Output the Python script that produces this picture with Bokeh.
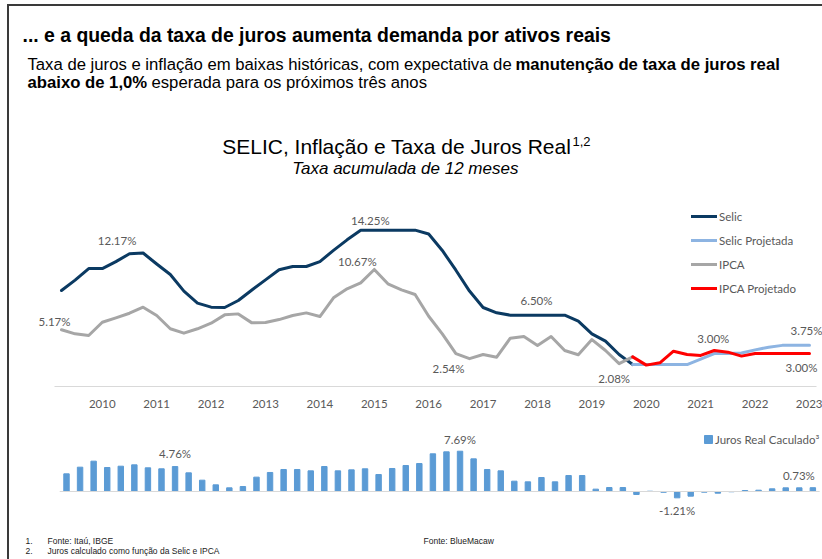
import math
from bokeh.plotting import figure
from bokeh.models import Range1d, FixedTicker, Legend, LegendItem, ColumnDataSource
from bokeh.layouts import column
from bokeh.embed import file_html
from bokeh.resources import INLINE
from bokeh.core.properties import value

nan = float("nan")

# ---------------- data (quarterly, Mar/2010 .. Dec/2023) ----------------
years = ["2010", "2011", "2012", "2013", "2014", "2015", "2016",
         "2017", "2018", "2019", "2020", "2021", "2022", "2023"]

selic = [8.75, 9.70, 10.75, 10.75, 11.38, 12.10, 12.17, 11.17, 10.21, 8.69,
         7.60, 7.23, 7.20, 7.84, 8.80, 9.72, 10.64, 10.94, 10.94, 11.39,
         12.41, 13.37, 14.25, 14.25, 14.25, 14.25, 14.25, 13.90, 12.40, 10.60,
         8.70, 7.20, 6.72, 6.50, 6.50, 6.50, 6.50, 6.50, 5.96, 4.80,
         4.13, 2.92, 2.00] + [nan] * 13

selic_proj = [nan] * 42 + [2.00, 2.00, 2.00, 2.00, 2.00, 2.50, 3.00, 3.00,
                           3.05, 3.34, 3.58, 3.75, 3.75, 3.75]

ipca = [5.17, 4.80, 4.65, 5.86, 6.26, 6.68, 7.23, 6.47, 5.26, 4.86,
        5.26, 5.77, 6.53, 6.62, 5.80, 5.83, 6.10, 6.47, 6.71, 6.38,
        8.08, 8.90, 9.45, 10.67, 9.36, 8.81, 8.39, 6.40, 4.80, 3.00,
        2.54, 2.92, 2.67, 4.40, 4.56, 3.74, 4.56, 3.28, 2.89, 4.28,
        3.28, 2.08, 2.70] + [nan] * 13

ipca_proj = [nan] * 42 + [2.70, 1.95, 2.16, 3.22, 2.92, 2.83, 3.28, 3.13,
                          2.77, 3.00, 3.00, 3.00, 3.00, 3.00]

juros_real = [3.37, 4.64, 5.79, 4.58, 4.83, 5.09, 4.52, 4.33, 4.76, 3.56,
              2.16, 1.27, 0.70, 0.95, 2.74, 3.63, 4.20, 4.20, 3.94, 4.77,
              3.94, 4.13, 4.33, 3.24, 4.39, 4.96, 5.34, 7.19, 7.57, 7.69,
              6.23, 4.20, 3.94, 1.97, 1.84, 2.67, 1.84, 3.05, 3.05, 0.45,
              0.76, 0.76, -0.57, 0.05, -0.15, -1.21, -0.89, -0.13, -0.32, -0.05,
              0.19, 0.25, 0.51, 0.70, 0.70, 0.73]

idx = list(range(len(juros_real)))
tick_pos = [3 + 4 * k for k in range(len(years))]

# ---------------- layout constants (page pixels) ----------------
FX0, FX1 = 9, 822           # frame left/right on page
TOP_Y0, TOP_Y1 = 6, 386     # line chart frame top/bottom on page
AXIS_H = 30
BOT_Y0, BOT_Y1 = TOP_Y1 + AXIS_H, 559
W = FX1 - FX0

def ix(px):   # page x -> line chart index
    return (px - 61) / 13.6

def vy(py):   # page y -> line chart value
    return (386 - py) / 10.97

def bx(px):   # page x -> bar index
    return (px - 66) / 13.57

def by(py):   # page y -> bar value
    return (491 - py) / 5.24

SANS = value("Liberation Sans")
LAB = value("Lato")
GRAY = "#595959"

# ---------------- top figure: header + line chart ----------------
p = figure(width=W, height=(TOP_Y1 - TOP_Y0) + AXIS_H, output_backend="svg",
           toolbar_location=None, y_axis_location=None,
           x_range=Range1d(ix(FX0), ix(FX1)), y_range=Range1d(0, vy(TOP_Y0)),
           min_border_left=0, min_border_right=0, min_border_top=0,
           min_border_bottom=AXIS_H)
p.outline_line_color = None
p.grid.visible = False
p.background_fill_color = "white"

ax = p.xaxis[0]
ax.ticker = FixedTicker(ticks=tick_pos)
ax.major_label_overrides = {t: y for t, y in zip(tick_pos, years)}
ax.bounds = (-0.5, len(idx) - 0.5)
ax.axis_line_color = "#d9d9d9"
ax.axis_line_width = 1.2
ax.major_tick_line_color = None
ax.minor_tick_line_color = None
ax.major_label_standoff = 7
ax.major_label_text_font = "Lato"
ax.major_label_text_font_size = "11.5px"
ax.major_label_text_color = GRAY

def txt(fig, x, y, s, size, style="normal", color="#000000", align="left",
        font=SANS, baseline="alphabetic"):
    fig.text(x=[x], y=[y], text=[s], text_font=font, text_font_size=size,
             text_font_style=style, text_color=color, text_align=align,
             text_baseline=baseline)

# header
txt(p, ix(22), vy(34), "... e a queda da taxa de juros aumenta demanda por ativos reais",
    "19.4px", "bold")
txt(p, ix(27), vy(64), "Taxa de juros e inflação em baixas históricas, com expectativa de",
    "16.7px")
txt(p, ix(515), vy(64), "manutenção de taxa de juros real", "16.7px", "bold")
txt(p, ix(27), vy(82), "abaixo de 1,0%", "16.7px", "bold")
txt(p, ix(151), vy(82), "esperada para os próximos três anos", "16.7px")
txt(p, ix(221.7), vy(145.5), "SELIC, Inflação e Taxa de Juros Real", "21px")
txt(p, ix(572), vy(141), "1,2", "13px")
txt(p, ix(291.7), vy(168.3), "Taxa acumulada de 12 meses", "17px", "italic")

r_selic = p.line(idx, selic, line_color="#0b3a62", line_width=3,
                 line_join="round", line_cap="round")
r_selic_p = p.line(idx, selic_proj, line_color="#8db4e2", line_width=3,
                   line_join="round", line_cap="round")
r_ipca = p.line(idx, ipca, line_color="#a6a6a6", line_width=3,
                line_join="round", line_cap="round")
r_ipca_p = p.line(idx, ipca_proj, line_color="#ff0000", line_width=3,
                  line_join="round", line_cap="round")

series = {"selic": selic, "selic_proj": selic_proj, "ipca": ipca, "ipca_proj": ipca_proj}
# (series, index, x offset px, y offset px)
line_label_spec = [("ipca", 0, -7, -8), ("selic", 6, -26, -12), ("selic", 23, -4, -10),
                   ("ipca", 23, -17, -8), ("selic", 35, -1, -15), ("ipca", 30, -21, 10),
                   ("ipca", 41, -5, 15), ("selic_proj", 48, -1, -15),
                   ("selic_proj", 55, -3, -15), ("ipca_proj", 55, -8, 14)]
ll = ColumnDataSource(dict(
    x=[i for _, i, _, _ in line_label_spec],
    y=[series[s][i] for s, i, _, _ in line_label_spec],
    t=["%.2f%%" % series[s][i] for s, i, _, _ in line_label_spec],
    dx=[d for _, _, d, _ in line_label_spec],
    dy=[d for _, _, _, d in line_label_spec]))
p.text(x="x", y="y", text="t", x_offset="dx", y_offset="dy", source=ll,
       text_font=LAB, text_font_size="11.5px", text_color=GRAY,
       text_align="center", text_baseline="middle")

leg = Legend(items=[LegendItem(label="Selic", renderers=[r_selic]),
                    LegendItem(label="Selic Projetada", renderers=[r_selic_p]),
                    LegendItem(label="IPCA", renderers=[r_ipca]),
                    LegendItem(label="IPCA Projetado", renderers=[r_ipca_p])],
             location=(682, 88), orientation="vertical")
leg.padding = 0
leg.margin = 0
leg.spacing = 4
leg.label_height = 20
leg.glyph_height = 20
leg.glyph_width = 26
leg.label_standoff = 2
leg.border_line_color = None
leg.background_fill_alpha = 0
leg.label_text_font = "Lato"
leg.label_text_font_size = "11.5px"
leg.label_text_color = GRAY
p.add_layout(leg, "center")

# ---------------- bottom figure: bars + footnotes ----------------
q = figure(width=W, height=BOT_Y1 - BOT_Y0, output_backend="svg",
           toolbar_location=None, x_axis_location=None, y_axis_location=None,
           x_range=Range1d(bx(FX0), bx(FX1)), y_range=Range1d(by(BOT_Y1), by(BOT_Y0)),
           min_border_left=0, min_border_right=0, min_border_top=0,
           min_border_bottom=0)
q.outline_line_color = None
q.grid.visible = False

r_bar = q.vbar(x=idx, top=juros_real, width=0.4, color="#5b9bd5")
q.segment(x0=[-0.5], x1=[len(idx) - 0.5], y0=[0], y1=[0],
          line_color="#d9d9d9", line_width=1.2)

bar_label_spec = [(8, 0, -13), (29, 0, -12), (45, 0, 13), (55, -14, -12)]
bl = ColumnDataSource(dict(
    x=[i for i, _, _ in bar_label_spec],
    y=[juros_real[i] for i, _, _ in bar_label_spec],
    t=["%.2f%%" % juros_real[i] for i, _, _ in bar_label_spec],
    dx=[d for _, d, _ in bar_label_spec],
    dy=[d for _, _, d in bar_label_spec]))
q.text(x="x", y="y", text="t", x_offset="dx", y_offset="dy", source=bl,
       text_font=LAB, text_font_size="11.5px", text_color=GRAY,
       text_align="center", text_baseline="middle")

leg2 = Legend(items=[LegendItem(label="Juros Real Caculado³", renderers=[r_bar])],
              location=(694, 113))
leg2.padding = 0
leg2.margin = 0
leg2.label_height = 14
leg2.glyph_height = 10
leg2.glyph_width = 10
leg2.label_standoff = 2
leg2.border_line_color = None
leg2.background_fill_alpha = 0
leg2.label_text_font = "Lato"
leg2.label_text_font_size = "11.5px"
leg2.label_text_color = GRAY
q.add_layout(leg2, "center")

fn = "#222222"
txt(q, bx(25), by(540), "1.", "8.5px", color=fn, baseline="middle")
txt(q, bx(47), by(540), "Fonte: Itaú, IBGE", "8.5px", color=fn, baseline="middle")
txt(q, bx(423), by(540), "Fonte: BlueMacaw", "8.5px", color=fn, baseline="middle")
txt(q, bx(25), by(550.5), "2.", "8.5px", color=fn, baseline="middle")
txt(q, bx(47), by(550.5), "Juros calculado como função da Selic e IPCA", "8.5px",
    color=fn, baseline="middle")

layout = column(p, q, spacing=0,
                styles={"margin-left": "7px", "margin-top": "4px",
                        "border-left": "2px solid #3a3a3a",
                        "border-top": "2px solid #3a3a3a"})

open("out.html", "w").write(file_html(layout, INLINE))
